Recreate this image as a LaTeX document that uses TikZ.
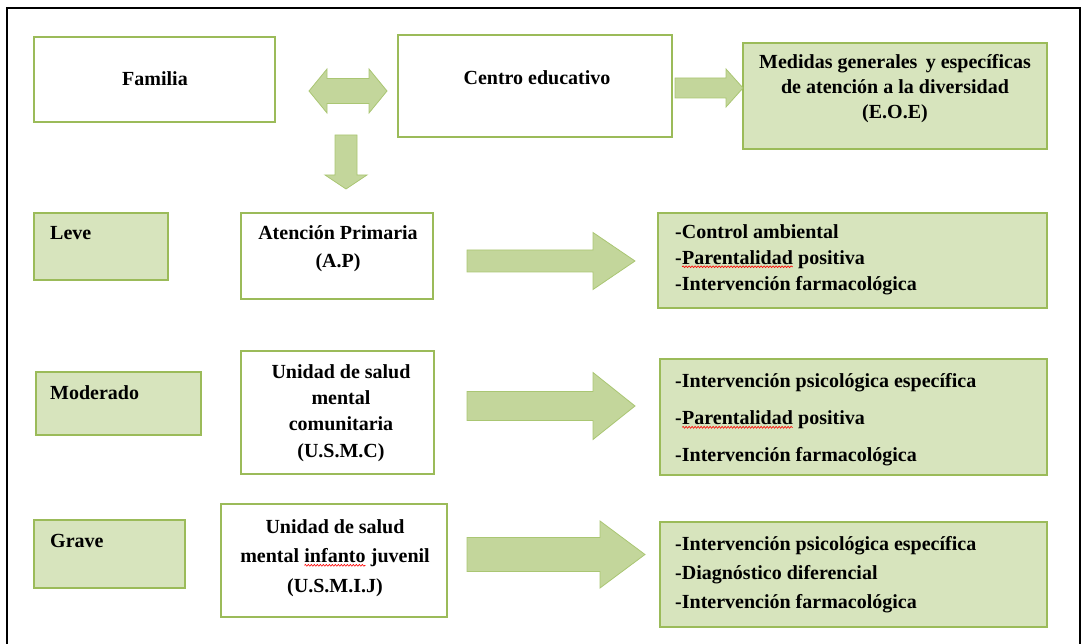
\documentclass[tikz,border=0pt]{standalone}
\usepackage{fontspec}
\setmainfont{Liberation Serif}
\usetikzlibrary{decorations.pathmorphing}

\definecolor{boxline}{RGB}{155,187,89}
\definecolor{boxfill}{RGB}{215,228,189}
\definecolor{arrowfill}{RGB}{195,214,155}
\definecolor{arrowline}{RGB}{170,198,115}

\tikzset{
  plainbox/.style={draw=boxline, line width=1.2pt, fill=white, rectangle, inner sep=0pt},
  greenbox/.style={plainbox, fill=boxfill},
  txt/.style={font=\fontsize{20}{25}\selectfont\bfseries, inner sep=0pt, align=center},
  listtxt/.style={txt, align=left, anchor=west},
  blockarrow/.style={fill=arrowfill, draw=arrowline, line width=0.8pt, line join=miter},
  frame/.style={draw=black, line width=2.2pt},
  squig/.style={draw=red, line width=0.6pt, decorate,
    decoration={snake, amplitude=0.9pt, segment length=3pt}}
}

% red spell-check underline under a word
\newcommand\spellerr[1]{\tikz[baseline=(sw.base)]{%
  \node[inner sep=0pt, outer sep=0pt] (sw) {#1};
  \path[squig] ([yshift=-2.5pt]sw.base west) -- ([yshift=-2.5pt]sw.base east);}}

% horizontal block arrow: x start, x head, x tip, y centre, shaft half, head half
\newcommand\harrow[6]{%
  \path[blockarrow] (#1,#4-#5) -- (#2,#4-#5) -- (#2,#4-#6) -- (#3,#4)
    -- (#2,#4+#6) -- (#2,#4+#5) -- (#1,#4+#5) -- cycle;}

\begin{document}
\begin{tikzpicture}[x=1pt, y=-1pt]
\useasboundingbox (0,0) rectangle (1085,644);
\clip (0,0) rectangle (1085,644);

% page frame (bottom edge lies below the visible area)
\draw[frame] (7,660) -- (7,8) -- (1080,8) -- (1080,660);

% top row
\node[plainbox, minimum width=241, minimum height=85] (familia) at (154.5,79.5) {};
\node[txt] (tfamilia) at (155,79) {Familia};

\node[plainbox, minimum width=274, minimum height=102] (centro) at (535,86) {};
\node[txt] (tcentro) at (537,78) {Centro educativo};

\node[greenbox, minimum width=304, minimum height=106] (medidas) at (895,96) {};
\node[txt] (tmedidas) at (895,89) {Medidas generales\, y específicas\\de atención a la diversidad\\(E.O.E)};

% connecting block arrows of the top row
\path[blockarrow] (309,91) -- (327,69) -- (327,78.5) -- (369,78.5) -- (369,69) -- (387,91)
  -- (369,113) -- (369,103.5) -- (327,103.5) -- (327,113) -- cycle;
\path[blockarrow] (335,135) -- (357,135) -- (357,175) -- (367,175) -- (346,189)
  -- (325,175) -- (335,175) -- cycle;
\harrow{675}{726}{743}{88}{10}{19}

% leve
\node[greenbox, minimum width=134, minimum height=67] (leve) at (101,246.5) {};
\node[txt, anchor=west] (tleve) at (50,233) {Leve};
\node[plainbox, minimum width=192, minimum height=86] (ap) at (337,256) {};
\node[txt, font=\fontsize{20}{28}\selectfont\bfseries] (tap) at (338,249) {Atención Primaria\\(A.P)};
\harrow{467}{593}{635}{261}{11}{28.5}
\node[greenbox, minimum width=389, minimum height=95] (res1) at (852.5,260.5) {};
\node[listtxt, font=\fontsize{20}{26}\selectfont\bfseries] (tres1) at (675,259.5)
  {-Control ambiental\\-\spellerr{Parentalidad} positiva\\-Intervención farmacológica};

% moderado
\node[greenbox, minimum width=165, minimum height=63] (moderado) at (118.5,403.5) {};
\node[txt, anchor=west] (tmoderado) at (50,393) {Moderado};
\node[plainbox, minimum width=193, minimum height=123] (usmc) at (337.5,412.5) {};
\node[txt, font=\fontsize{20}{26.3}\selectfont\bfseries] (tusmc) at (341,413)
  {Unidad de salud\\mental\\comunitaria\\(U.S.M.C)};
\harrow{467}{593}{635}{406}{14.5}{33.5}
\node[greenbox, minimum width=387, minimum height=116] (res2) at (853.5,417) {};
\node[listtxt, font=\fontsize{20}{37}\selectfont\bfseries] (tres2) at (675,420)
  {-Intervención psicológica específica\\-\spellerr{Parentalidad} positiva\\-Intervención farmacológica};

% grave
\node[greenbox, minimum width=151, minimum height=68] (grave) at (109.5,554) {};
\node[txt, anchor=west] (tgrave) at (50,541) {Grave};
\node[plainbox, minimum width=226, minimum height=113] (usmlj) at (334,560.5) {};
\node[txt, font=\fontsize{20}{29.5}\selectfont\bfseries] (tusmlj) at (335,558)
  {Unidad de salud\\mental \spellerr{infanto} juvenil\\(U.S.M.I.J)};
\harrow{467}{600}{645}{554.5}{17}{33.5}
\node[greenbox, minimum width=387, minimum height=105] (res3) at (853.5,574.5) {};
\node[listtxt, font=\fontsize{20}{29}\selectfont\bfseries] (tres3) at (675,574.5)
  {-Intervención psicológica específica\\-Diagnóstico diferencial\\-Intervención farmacológica};
\end{tikzpicture}
\end{document}
